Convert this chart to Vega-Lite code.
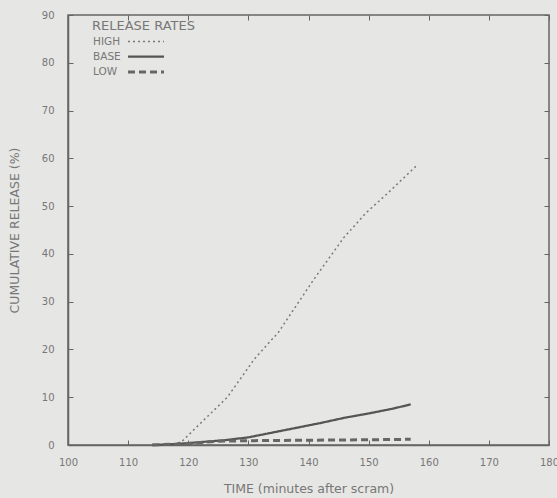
{
  "$schema": "https://vega.github.io/schema/vega-lite/v6.json",
  "width": 481,
  "height": 430,
  "autosize": {"type": "none"},
  "padding": {"left": 68, "top": 15, "right": 8, "bottom": 53},
  "background": "#e6e6e4",
  "config": {
    "font": "DejaVu Sans",
    "view": {"stroke": "#666", "strokeWidth": 1.5},
    "axis": {
      "domainColor": "#666",
      "domainWidth": 1.5,
      "tickColor": "#666",
      "tickSize": -5,
      "grid": false,
      "labelColor": "#777",
      "labelFontSize": 10,
      "titleColor": "#777",
      "titleFontSize": 12.5,
      "titleFontWeight": "normal"
    },
    "legend": {
      "orient": "none",
      "legendX": 24,
      "legendY": 5,
      "titleColor": "#777",
      "titleFontSize": 13,
      "titleFontWeight": "normal",
      "titlePadding": 0,
      "labelColor": "#777",
      "labelFontSize": 10.5,
      "symbolType": "M-2.4,0H2.4",
      "symbolSize": 225,
      "symbolOffset": 45,
      "labelOffset": -62,
      "rowPadding": 0.5
    }
  },
  "data": {
    "values": [
      {"rate": "HIGH", "t": 117.5, "v": 0},
      {"rate": "HIGH", "t": 119, "v": 0.8},
      {"rate": "HIGH", "t": 122, "v": 4.5},
      {"rate": "HIGH", "t": 126.5, "v": 10},
      {"rate": "HIGH", "t": 131, "v": 18},
      {"rate": "HIGH", "t": 135, "v": 23.6},
      {"rate": "HIGH", "t": 140.8, "v": 34.5},
      {"rate": "HIGH", "t": 145.8, "v": 43.3},
      {"rate": "HIGH", "t": 149.5, "v": 48.5},
      {"rate": "HIGH", "t": 153, "v": 52.5},
      {"rate": "HIGH", "t": 158, "v": 58.5},
      {"rate": "BASE", "t": 114, "v": 0},
      {"rate": "BASE", "t": 118, "v": 0.2},
      {"rate": "BASE", "t": 122, "v": 0.6},
      {"rate": "BASE", "t": 126, "v": 1.0},
      {"rate": "BASE", "t": 130, "v": 1.6},
      {"rate": "BASE", "t": 134, "v": 2.6},
      {"rate": "BASE", "t": 138, "v": 3.6},
      {"rate": "BASE", "t": 142, "v": 4.6},
      {"rate": "BASE", "t": 146, "v": 5.7},
      {"rate": "BASE", "t": 150, "v": 6.6},
      {"rate": "BASE", "t": 154, "v": 7.6},
      {"rate": "BASE", "t": 157, "v": 8.5},
      {"rate": "LOW", "t": 114, "v": 0},
      {"rate": "LOW", "t": 120, "v": 0.3},
      {"rate": "LOW", "t": 125, "v": 0.8},
      {"rate": "LOW", "t": 130, "v": 0.9},
      {"rate": "LOW", "t": 140, "v": 1.0},
      {"rate": "LOW", "t": 150, "v": 1.1},
      {"rate": "LOW", "t": 157, "v": 1.2}
    ]
  },
  "layer": [
    {
      "mark": {"type": "line", "strokeCap": "butt"},
      "encoding": {
        "x": {
          "field": "t", "type": "quantitative",
          "scale": {"domain": [100, 180], "nice": false, "zero": false},
          "axis": {"title": "TIME (minutes after scram)", "values": [100,110,120,130,140,150,160,170,180], "labelPadding": 17, "titlePadding": 15, "labelFlush": false}
        },
        "y": {
          "field": "v", "type": "quantitative",
          "scale": {"domain": [0, 90], "nice": false},
          "axis": {"title": "CUMULATIVE RELEASE (%)", "values": [0,10,20,30,40,50,60,70,80,90], "labelPadding": 19, "titlePadding": 20, "labelFlush": false}
        },
        "color": {
          "field": "rate", "type": "nominal",
          "scale": {"domain": ["HIGH", "BASE", "LOW"], "range": ["#7a7a7a", "#555555", "#666666"]},
          "legend": {"title": "RELEASE RATES"}
        },
        "strokeDash": {
          "field": "rate", "type": "nominal",
          "scale": {"domain": ["HIGH", "BASE", "LOW"], "range": [[2, 3], [1, 0], [7, 4]]},
          "legend": {"title": "RELEASE RATES"}
        },
        "strokeWidth": {
          "field": "rate", "type": "nominal",
          "scale": {"domain": ["HIGH", "BASE", "LOW"], "range": [1.5, 3, 2.5]},
          "legend": {"title": "RELEASE RATES"}
        }
      }
    },
    {
      "mark": {"type": "line", "opacity": 0},
      "encoding": {
        "x": {"field": "t", "type": "quantitative", "scale": {"domain": [100, 180], "nice": false, "zero": false},
              "axis": {"orient": "top", "labels": false, "title": null, "domain": false, "values": [100,110,120,130,140,150,160,170,180]}},
        "y": {"field": "v", "type": "quantitative", "scale": {"domain": [0, 90], "nice": false},
              "axis": {"orient": "right", "labels": false, "title": null, "domain": false, "values": [0,10,20,30,40,50,60,70,80,90]}},
        "detail": {"field": "rate", "type": "nominal"}
      }
    }
  ],
  "resolve": {"axis": {"x": "independent", "y": "independent"}}
}
